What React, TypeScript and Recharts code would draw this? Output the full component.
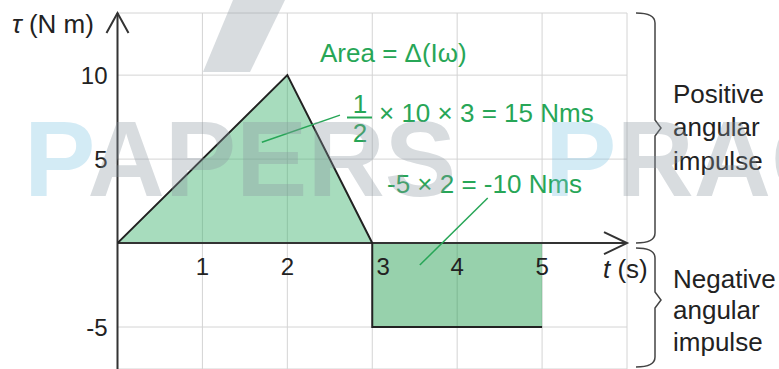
import {
  ComposedChart,
  Area,
  Line,
  XAxis,
  YAxis,
  CartesianGrid,
  ReferenceLine,
  ReferenceDot,
} from "recharts";

// torque against time: triangular pulse then a negative step
const TIME = [0, 2, 3, 3, 5];
const TORQUE = [0, 10, 0, -5, -5];

const X_TICKS = [1, 2, 3, 4, 5];
const Y_TICKS = [-5, 5, 10];

// leader lines from the working text to each area
const POS_LEADER = [
  { x: 1.7, y: 6.0 },
  { x: 2.62, y: 7.62 },
];
const NEG_LEADER = [
  { x: 3.56, y: -1.31 },
  { x: 4.36, y: 2.68 },
];

const rows = TIME.map((t, i) => ({
  t,
  torque: TORQUE[i],
  pos: TORQUE[i] >= 0 ? TORQUE[i] : null,
  neg: TORQUE[i] < 0 ? TORQUE[i] : null,
}));

const FONT = '"Liberation Sans", Arial, Helvetica, sans-serif';
const GREEN = "#27a657";
const INK = "#222";
const AXIS = "#333";

// axis line with an open arrow head at the far end
const axisShape = (dir: "right" | "up") => (props: any) => {
  const { x1, y1, x2, y2 } = props;
  let head = "";
  if (dir === "right") {
    const tx = Math.max(x1, x2);
    head = `${tx - 23},${y1 - 11} ${tx},${y1} ${tx - 23},${y1 + 11}`;
  } else {
    const ty = Math.min(y1, y2);
    head = `${x1 - 11},${ty + 20} ${x1},${ty} ${x1 + 11},${ty + 20}`;
  }
  return (
    <g>
      <line x1={x1} y1={y1} x2={x2} y2={y2} stroke={AXIS} strokeWidth={2} />
      <polyline points={head} fill="none" stroke={AXIS} strokeWidth={2} />
    </g>
  );
};

const X_TICK_SHIFT: Record<number, number> = { 3: 11 };

function XTickLabel(props: any) {
  const { viewBox, value } = props;
  const cx = viewBox.x + (viewBox.width || 0) / 2 + (X_TICK_SHIFT[value] || 0);
  const cy = viewBox.y + (viewBox.height || 0) / 2;
  return (
    <text
      x={cx}
      y={cy + 32}
      textAnchor="middle"
      fontFamily={FONT}
      fontSize={24}
      fill={INK}
    >
      {value}
    </text>
  );
}

function brace(top: number, bottom: number, tipY: number) {
  const xv = 655;
  const xh = 636;
  const r = 10;
  return `M${xh},${top} Q${xv},${top} ${xv},${top + r} L${xv},${tipY - 8} L${xv + 6},${tipY} L${xv},${tipY + 8} L${xv},${bottom - r} Q${xv},${bottom} ${xh},${bottom}`;
}

function Overlay() {
  const blue = "#7cc3e3";
  const grey = "#8a96a0";
  return (
    <svg
      width={779}
      height={369}
      style={{ position: "absolute", left: 0, top: 0, pointerEvents: "none" }}
    >
      {/* axis titles */}
      <text x={12} y={33} fontFamily={FONT} fontSize={26} fill={INK}>
        <tspan fontStyle="italic">τ</tspan> (N m)
      </text>
      <text x={603} y={278} fontFamily={FONT} fontSize={26} fill={INK}>
        <tspan fontStyle="italic">t</tspan> (s)
      </text>

      {/* working */}
      <g fontFamily={FONT} fontSize={26} fill={GREEN}>
        <text x={320} y={62}>Area = Δ(Iω)</text>
        <text x={360} y={113} textAnchor="middle">1</text>
        <line x1={347} y1={117.5} x2={372} y2={117.5} stroke={GREEN} strokeWidth={2} />
        <text x={360} y={142} textAnchor="middle">2</text>
        <text x={379} y={122}>× 10 × 3 = 15 Nms</text>
        <text x={387} y={193}>-5 × 2 = -10 Nms</text>
      </g>

      {/* braces */}
      <g fill="none" stroke="#444" strokeWidth={1.5}>
        <path d={brace(13, 243, 128)} />
        <path d={brace(248, 367, 300)} />
      </g>
      <g fontFamily={FONT} fontSize={26} fill={INK}>
        <text x={673} y={103}>Positive</text>
        <text x={673} y={136}>angular</text>
        <text x={673} y={170}>impulse</text>
        <text x={673} y={288}>Negative</text>
        <text x={673} y={319}>angular</text>
        <text x={673} y={351}>impulse</text>
      </g>

      {/* watermark */}
      <g opacity={0.33}>
        <polygon points="203,72 250,72 285,0 233,0" fill={grey} />
        <text x={24} y={196} fontFamily={FONT} fontWeight="bold" fontSize={107} fill={grey}>
          <tspan fill={blue}>P</tspan>APERS
        </text>
        <text x={545} y={196} fontFamily={FONT} fontWeight="bold" fontSize={107} fill={grey}>
          <tspan fill={blue}>P</tspan>RACTICE
        </text>
      </g>
    </svg>
  );
}

export default function App() {
  return (
    <div
      style={{
        position: "absolute",
        left: 0,
        top: 0,
        width: 779,
        height: 369,
        background: "#fff",
        overflow: "hidden",
      }}
    >
      <ComposedChart
        width={779}
        height={369}
        data={rows}
        margin={{ top: 13, right: 152, bottom: 0, left: 0 }}
      >
        <CartesianGrid stroke="#d4d4d4" strokeWidth={1} />
        <XAxis
          dataKey="t"
          type="number"
          domain={[0, 6]}
          ticks={X_TICKS}
          allowDataOverflow
          height={0}
          axisLine={false}
          tickLine={false}
          tick={() => <g />}
        />
        <YAxis
          type="number"
          domain={[-7.5, 13.7]}
          ticks={Y_TICKS}
          allowDataOverflow
          width={117.5}
          axisLine={false}
          tickLine={false}
          tickSize={0}
          tickMargin={10}
          tick={{ fontSize: 24, fill: INK, fontFamily: FONT }}
        />
        <Area
          dataKey="pos"
          type="linear"
          baseValue={0}
          fill="#3bb16c"
          fillOpacity={0.45}
          stroke="none"
          isAnimationActive={false}
        />
        <Area
          dataKey="neg"
          type="linear"
          baseValue={0}
          fill="#189947"
          fillOpacity={0.45}
          stroke="none"
          isAnimationActive={false}
        />
        <ReferenceLine y={0} shape={axisShape("right")} />
        <ReferenceLine x={0} shape={axisShape("up")} />
        <Line
          dataKey="torque"
          type="linear"
          stroke={INK}
          strokeWidth={2}
          dot={false}
          isAnimationActive={false}
        />
        <ReferenceLine
          segment={POS_LEADER}
          stroke={GREEN}
          strokeWidth={1.5}
          ifOverflow="visible"
        />
        <ReferenceLine
          segment={NEG_LEADER}
          stroke={GREEN}
          strokeWidth={1.5}
          ifOverflow="visible"
        />
        {X_TICKS.map((v) => (
          <ReferenceDot
            key={v}
            x={v}
            y={0}
            r={0}
            fill="none"
            stroke="none"
            label={{ value: v, content: XTickLabel }}
          />
        ))}
      </ComposedChart>
      <Overlay />
    </div>
  );
}
